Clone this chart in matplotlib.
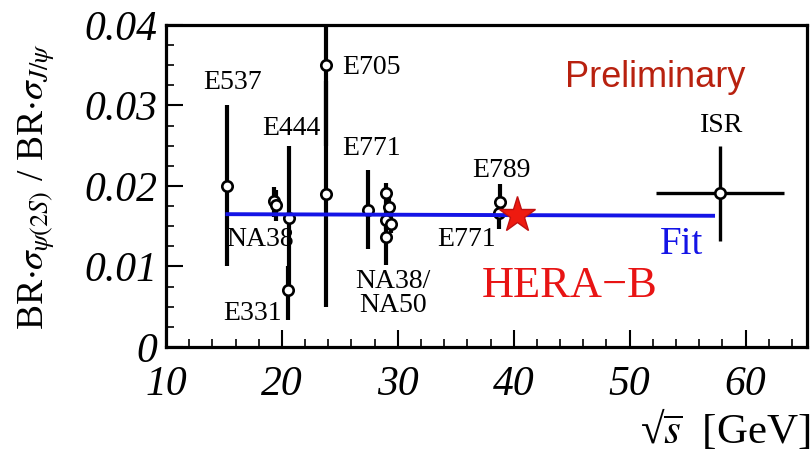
import matplotlib
matplotlib.use("Agg")
import matplotlib.pyplot as plt
from matplotlib.ticker import MultipleLocator

plt.rcParams['font.family'] = ['Liberation Serif', 'DejaVu Serif']
plt.rcParams['mathtext.fontset'] = 'stix'

# psi(2S) / J/psi ratio measurements vs sqrt(s)
sqrt_s  = [15.3, 19.3, 19.5, 20.6, 20.5, 23.8, 23.8, 27.4, 29.0, 29.2, 29.0, 29.4, 29.0, 38.8, 38.7]
ratio   = [0.0200, 0.0181, 0.0177, 0.0160, 0.0071, 0.0350, 0.0190, 0.0170,
           0.0191, 0.0174, 0.0158, 0.0153, 0.0137, 0.0180, 0.0166]
err_lo  = [0.0100, 0.0020, 0.0020, 0.0090, 0.0037, 0.0100, 0.0140, 0.0048,
           0.0013, 0.0012, 0.0012, 0.0012, 0.0035, 0.0020, 0.0020]
err_hi  = [0.0100, 0.0018, 0.0018, 0.0090, 0.0030, 0.0100, 0.0140, 0.0050,
           0.0013, 0.0012, 0.0012, 0.0012, 0.0025, 0.0022, 0.0020]

# ISR point has a horizontal spread too
isr_x, isr_y, isr_xerr, isr_yerr = 57.8, 0.0191, 5.5, 0.0059

# fit line and HERA-B result
fit_x = [15.3, 57.2]
fit_y = [0.0165, 0.0163]
herab_x, herab_y = 40.3, 0.0164

exp_labels = ['E537', 'E444', 'NA38', 'E331', 'E705', 'E771', 'NA38/\nNA50', 'E789', 'E771', 'ISR']
label_x    = [15.7, 20.8, 18.1, 17.5, 27.7, 27.7, 29.6, 38.9, 35.9, 57.9]
label_y    = [0.0328, 0.0272, 0.0134, 0.0041, 0.0347, 0.0247, 0.0066, 0.0219, 0.0134, 0.0275]

fig = plt.figure(figsize=(8.12, 4.51), dpi=100)
ax = fig.add_axes([0.2044, 0.2306, 0.7894, 0.714])

yerr = [err_lo, err_hi]
ax.errorbar(sqrt_s, ratio, yerr=yerr, fmt='o', color='black', mfc='white', mec='black',
            ms=7.5, mew=1.9, elinewidth=3, capsize=0, zorder=3)
ax.errorbar([isr_x], [isr_y], xerr=[isr_xerr], yerr=[isr_yerr], fmt='o', color='black',
            mfc='white', mec='black', ms=7.5, mew=1.9, elinewidth=2.4, capsize=0, zorder=3)

ax.plot(fit_x, fit_y, color='#1414e6', lw=2.8, zorder=4)
ax.plot([herab_x], [herab_y], marker='*', color='#ee1a10', mec='#c01010', ms=27, zorder=5)

for name, lx, ly in zip(exp_labels, label_x, label_y):
    ax.text(lx, ly, name, fontsize=20, ha='center', va='center', linespacing=0.95)

ax.text(52.2, 0.0335, 'Preliminary', fontsize=26, color='#b8210f', family='Liberation Sans',
        ha='center', va='center')
ax.text(44.8, 0.0076, 'HERA\u2212B', fontsize=32, color='#e81414', ha='center', va='center')
ax.text(54.5, 0.0127, 'Fit', fontsize=28, color='#1414e6', ha='center', va='center')

ax.set_xlim(10, 65.3)
ax.set_ylim(0, 0.04)
ax.set_xticks([10, 20, 30, 40, 50, 60])
ax.set_xticklabels(['10', '20', '30', '40', '50', '60'])
ax.set_yticks([0, 0.01, 0.02, 0.03, 0.04])
ax.set_yticklabels(['0', '0.01', '0.02', '0.03', '0.04'])
ax.xaxis.set_minor_locator(MultipleLocator(2))
ax.yaxis.set_minor_locator(MultipleLocator(0.0025))
ax.tick_params(which='both', direction='in', top=False, right=False, labelsize=30)
ax.tick_params(which='major', length=12, width=1.5)
ax.tick_params(which='minor', length=6, width=1.2)
ax.tick_params(axis='y', pad=6)
ax.tick_params(axis='x', pad=13)
for lab in ax.get_xticklabels() + ax.get_yticklabels():
    lab.set_style('italic')
for sp in ax.spines.values():
    sp.set_linewidth(2.3)

ax.set_ylabel(r'BR$\cdot\sigma_{\psi(2S)}$ / BR$\cdot\sigma_{J/\psi}$', fontsize=27)
ax.yaxis.set_label_coords(-0.17, 0.5)
fig.text(810 / 812, 8 / 451, '\u221A' + r'$\overline{s}$  [GeV]', fontsize=31,
         ha='right', va='baseline')

fig.savefig('out.png', dpi=100)
